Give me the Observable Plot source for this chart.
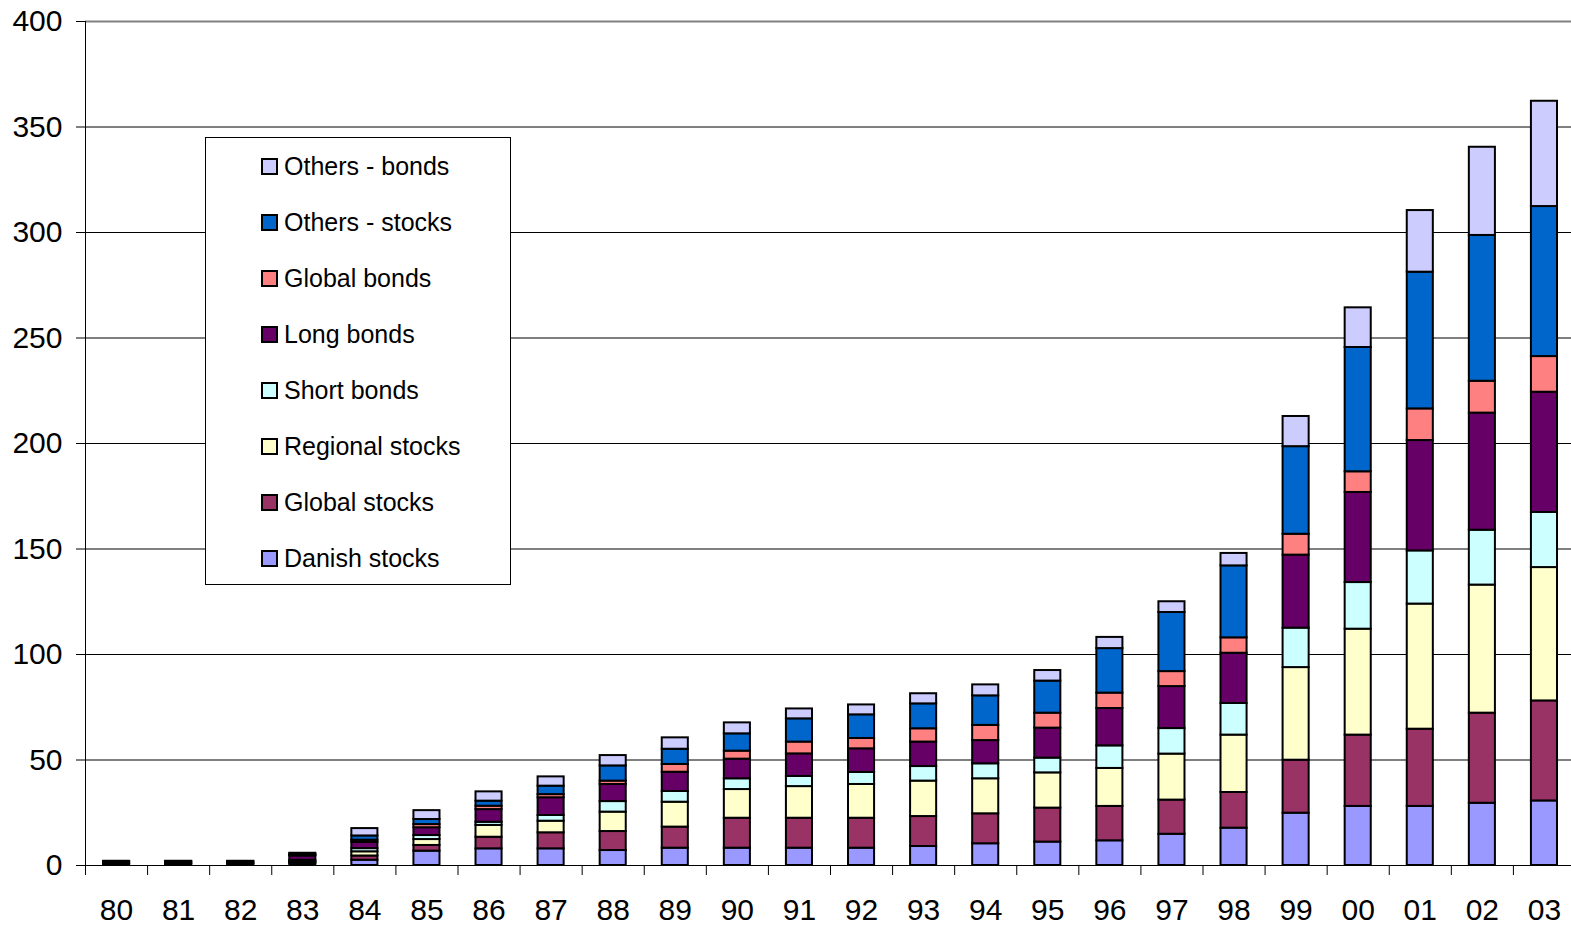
<!DOCTYPE html>
<html>
<head>
<meta charset="utf-8">
<script src="https://cdn.jsdelivr.net/npm/d3@7"></script>
<script src="https://cdn.jsdelivr.net/npm/@observablehq/plot@0.6"></script>
<style>
  html, body { margin: 0; padding: 0; background: #fff; overflow: hidden; }
  #wrap { position: relative; width: 1571px; height: 928px; overflow: hidden; font-family: "Liberation Sans", Arial, sans-serif; }
  #wrap svg { display: block; max-width: none !important; }
  #legend { position: absolute; left: 205px; top: 137px; width: 306px; height: 448px; border: 1px solid #000; background: #fff; box-sizing: border-box; }
  .item { position: absolute; left: 55px; height: 30px; display: flex; align-items: center; font-size: 25px; color: #000; white-space: nowrap; }
  .sw { width: 13px; height: 13px; border: 2px solid #000; margin-right: 6px; flex: none; }
</style>
</head>
<body>
<div id="wrap"><div id="legend"></div></div>
<script>
const years = ["80","81","82","83","84","85","86","87","88","89","90","91","92","93","94","95","96","97","98","99","00","01","02","03"];

// series, bottom of stack first
const seriesNames = ["Danish stocks","Global stocks","Regional stocks","Short bonds","Long bonds","Global bonds","Others - stocks","Others - bonds"];
const seriesColors = ["#9999FF","#993366","#FFFFCC","#CCFFFF","#660066","#FF8080","#0066CC","#CCCCFF"];

const danishStocks   = [0.5,0.5,0.5,1.0,2.5,6.8,7.9,7.9,7.1,8.2,8.2,8.2,8.2,9.0,10.3,11.1,11.7,14.8,17.7,24.8,28.0,28.0,29.5,30.6];
const globalStocks   = [0.3,0.3,0.3,0.5,2.0,2.7,5.5,7.6,9.0,10.0,14.2,14.2,14.2,14.2,14.2,16.1,16.3,16.2,16.9,25.1,33.8,36.6,42.7,47.4];
const regionalStocks = [0.2,0.2,0.2,0.5,2.0,2.8,5.6,5.5,9.2,11.8,13.6,15.0,16.0,16.8,16.6,16.7,18.0,21.8,27.2,43.9,50.2,59.3,60.7,63.2];
const shortBonds     = [0.2,0.2,0.2,0.5,1.5,1.9,1.5,2.7,5.0,5.1,5.1,4.8,5.7,6.9,7.1,7.0,10.7,12.1,15.0,18.7,22.1,25.2,26.0,26.1];
const longBonds      = [0.6,0.6,0.6,2.0,3.0,3.7,6.0,8.4,8.1,9.1,9.3,10.7,11.2,11.6,11.0,14.2,17.7,19.9,23.8,34.6,42.7,52.3,55.5,57.0];
const globalBonds    = [0.1,0.1,0.1,0.3,1.0,1.5,1.6,1.5,1.6,3.7,3.8,5.6,4.9,6.3,7.2,7.1,7.3,7.1,7.3,9.9,9.8,15.0,15.1,16.9];
const othersStocks   = [0.1,0.1,0.1,0.5,2.0,2.4,2.4,4.0,7.2,7.2,8.2,11.0,11.2,11.8,14.0,15.2,21.1,28.0,34.1,41.5,58.9,64.8,69.1,71.1];
const othersBonds    = [0.0,0.0,0.0,0.5,3.5,4.2,4.4,4.4,4.9,5.4,5.2,4.7,4.7,4.8,5.2,5.0,5.3,5.1,5.9,14.3,18.8,29.2,41.8,49.9];

const yTicks = [0,50,100,150,200,250,300,350,400];

const seriesValues = [danishStocks, globalStocks, regionalStocks, shortBonds, longBonds, globalBonds, othersStocks, othersBonds];
const data = [];
seriesNames.forEach((name, si) => {
  years.forEach((yr, i) => data.push({year: yr, series: name, value: seriesValues[si][i]}));
});

const W = 1575, H = 928, mL = 85, mR = 0, mT = 21, mB = 63;
const step = (W - mL - mR) / years.length;
const plotH = H - mT - mB;

const chart = Plot.plot({
  width: W, height: H,
  marginLeft: mL, marginRight: mR, marginTop: mT, marginBottom: mB,
  style: {fontFamily: "'Liberation Sans', Arial, sans-serif", background: "#fff", color: "#000", maxWidth: "none"},
  x: {domain: years, paddingInner: 0.58, paddingOuter: 0.29, round: false, label: null},
  y: {domain: [0, 400], label: null},
  color: {domain: seriesNames, range: seriesColors},
  marks: [
    Plot.ruleY(yTicks.filter(d => d < 400), {stroke: "#000", strokeWidth: 1}),
    Plot.ruleY([400], {stroke: "#808080", strokeWidth: 2}),
    Plot.axisY({ticks: yTicks, tickSize: 9, tickPadding: 14, fontSize: 30, label: null, tickFormat: d => String(d)}),
    Plot.axisX({tickSize: 0, tickPadding: 33, fontSize: 30, label: null}),
    Plot.barY(data, {x: "year", y: "value", fill: "series", stroke: "#000", strokeWidth: 2, order: seriesNames}),
    Plot.ruleX([years[0]], {dx: -step / 2, stroke: "#000", strokeWidth: 1, insetBottom: -10}),
    Plot.ruleX(years.slice(1), {dx: -step / 2, stroke: "#000", strokeWidth: 1, insetTop: plotH, insetBottom: -10}),
    Plot.ruleY([0], {stroke: "#000", strokeWidth: 1.2})
  ]
});
document.getElementById("wrap").prepend(chart);

// legend (top to bottom = reverse of stacking order)
const legend = document.getElementById("legend");
const legendNames = seriesNames.slice().reverse();
const legendColors = seriesColors.slice().reverse();
legendNames.forEach((name, i) => {
  const it = document.createElement("div");
  it.className = "item";
  it.style.top = (13 + i * 56) + "px";
  const sw = document.createElement("span");
  sw.className = "sw";
  sw.style.background = legendColors[i];
  const tx = document.createElement("span");
  tx.textContent = name;
  it.appendChild(sw);
  it.appendChild(tx);
  legend.appendChild(it);
});
</script>
</body>
</html>
